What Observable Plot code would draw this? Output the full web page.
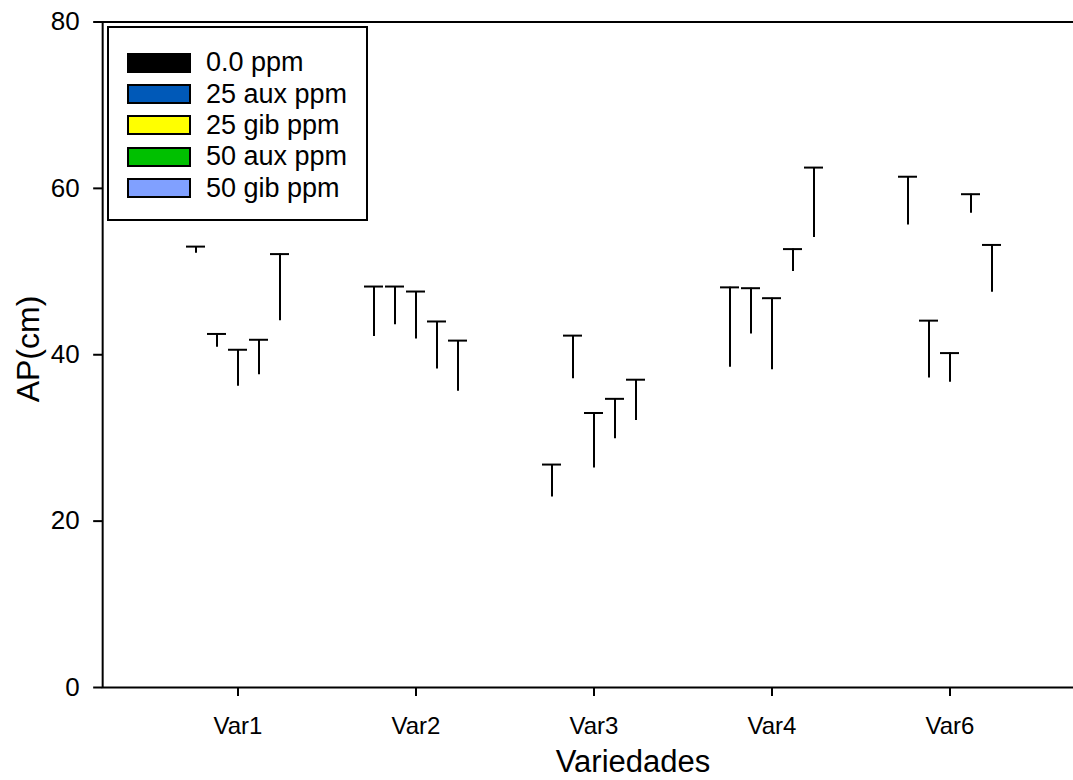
<!DOCTYPE html>
<html>
<head>
<meta charset="utf-8">
<script src="https://cdn.jsdelivr.net/npm/d3@7"></script>
<script src="https://cdn.jsdelivr.net/npm/@observablehq/plot@0.6"></script>
<style>
  html, body { margin: 0; padding: 0; overflow: hidden; background: #fff; }
  #wrap { position: relative; width: 1073px; height: 780px; overflow: hidden; font-family: "Liberation Sans", Arial, sans-serif; }
  #wrap svg { max-width: none !important; display: block; }
  #legend { position: absolute; left: 107px; top: 26px; width: 261px; height: 195px; box-sizing: border-box;
            border: 2px solid #000; background: #fff; padding-top: 19px; }
  .row { display: flex; align-items: center; height: 31.4px; }
  .sw { width: 64px; height: 20px; box-sizing: border-box; border: 2px solid #000; margin-left: 18px; }
  .lab { margin-left: 15px; font-size: 27px; line-height: 1; color: #000; white-space: nowrap; }
  .atitle { position: absolute; font-size: 32px; line-height: 0.8; color: #000; white-space: nowrap; }
  #xt { font-size: 31px; }
</style>
</head>
<body>
<div id="wrap"></div>
<script>
// Categories and series
const varieties = ["Var1", "Var2", "Var3", "Var4", "Var6"];
const treatments = ["0.0 ppm", "25 aux ppm", "25 gib ppm", "50 aux ppm", "50 gib ppm"];
const colors = ["#000000", "#0059B8", "#FFFF00", "#00C000", "#80A0FF"];
const yLabel = "AP(cm)";
const xLabel = "Variedades";

// Means (bar tops) per treatment, in order of varieties
const mean0 =     [52.2, 42.2, 22.9, 38.5, 55.6];
const meanAux25 = [40.9, 43.6, 37.1, 42.5, 37.2];
const meanGib25 = [36.2, 41.9, 26.4, 38.2, 36.7];
const meanAux50 = [37.6, 38.3, 29.9, 50.0, 57.0];
const meanGib50 = [44.1, 35.6, 32.1, 54.1, 47.5];

// Standard errors (upper error bars)
const se0 =     [0.8, 6.0, 3.9, 9.6, 5.8];
const seAux25 = [1.6, 4.6, 5.2, 5.5, 6.9];
const seGib25 = [4.4, 5.7, 6.6, 8.6, 3.5];
const seAux50 = [4.2, 5.7, 4.8, 2.7, 2.3];
const seGib50 = [8.0, 6.1, 4.9, 8.4, 5.7];

const yTicks = [0, 20, 40, 60, 80];

const meansList = [mean0, meanAux25, meanGib25, meanAux50, meanGib50];
const seList = [se0, seAux25, seGib25, seAux50, seGib50];

const data = varieties.flatMap((v, i) =>
  treatments.map((t, j) => ({
    variety: v,
    treatment: t,
    mean: meansList[j][i],
    top: meansList[j][i] + seList[j][i]
  }))
);

const font = "Liberation Sans, Arial, sans-serif";

// layout
const W = 1100, ML = 102, MR = 14.4;
const PI = 0.389, PO = 0.4535;
const fxStep = (W - ML - MR) / (varieties.length - PI + 2 * PO);
const axisShift = -PO * fxStep; // facet edge -> outer frame edge

const chart = Plot.plot({
  width: W,
  height: 780,
  marginLeft: ML,
  marginRight: MR,
  marginTop: 21.5,
  marginBottom: 93,
  style: { fontFamily: font, color: "#000", background: "transparent" },
  y: { domain: [0, 80] },
  fx: { domain: varieties, paddingInner: PI, paddingOuter: PO },
  x: { domain: treatments, padding: 0.09, axis: null },
  marks: [
    Plot.frame({ facet: "super", stroke: "#000", strokeWidth: 2, insetLeft: axisShift, insetRight: axisShift }),
    Plot.ruleX(data, { fx: "variety", x: "treatment", y1: "mean", y2: "top", stroke: "#000", strokeWidth: 2 }),
    Plot.tickY(data, { fx: "variety", x: "treatment", y: "top", stroke: "#000", strokeWidth: 2 }),
    Plot.axisY({ ticks: yTicks, tickSize: 9, tickPadding: 14, fontSize: 26, strokeWidth: 2, label: null, dx: axisShift }),
    Plot.axisFx({ anchor: "bottom", tickSize: 9, tickPadding: 20, fontSize: 24, strokeWidth: 2, label: null })
  ]
});

const wrap = document.getElementById("wrap");
wrap.appendChild(chart);

// Axis titles
const yt = document.createElement("div");
yt.className = "atitle";
yt.textContent = yLabel;
yt.style.left = "29px";
yt.style.top = "349px";
yt.style.transform = "translate(-50%, -50%) rotate(-90deg)";
wrap.appendChild(yt);

const xt = document.createElement("div");
xt.className = "atitle";
xt.id = "xt";
xt.textContent = xLabel;
xt.style.left = "633px";
xt.style.top = "762px";
xt.style.transform = "translate(-50%, -50%)";
wrap.appendChild(xt);

// Legend (inside the plot frame, top-left)
const legend = document.createElement("div");
legend.id = "legend";
treatments.forEach((t, i) => {
  const row = document.createElement("div");
  row.className = "row";
  const sw = document.createElement("div");
  sw.className = "sw";
  sw.style.background = colors[i];
  const lab = document.createElement("span");
  lab.className = "lab";
  lab.textContent = t;
  row.appendChild(sw);
  row.appendChild(lab);
  legend.appendChild(row);
});
wrap.appendChild(legend);
</script>
</body>
</html>
